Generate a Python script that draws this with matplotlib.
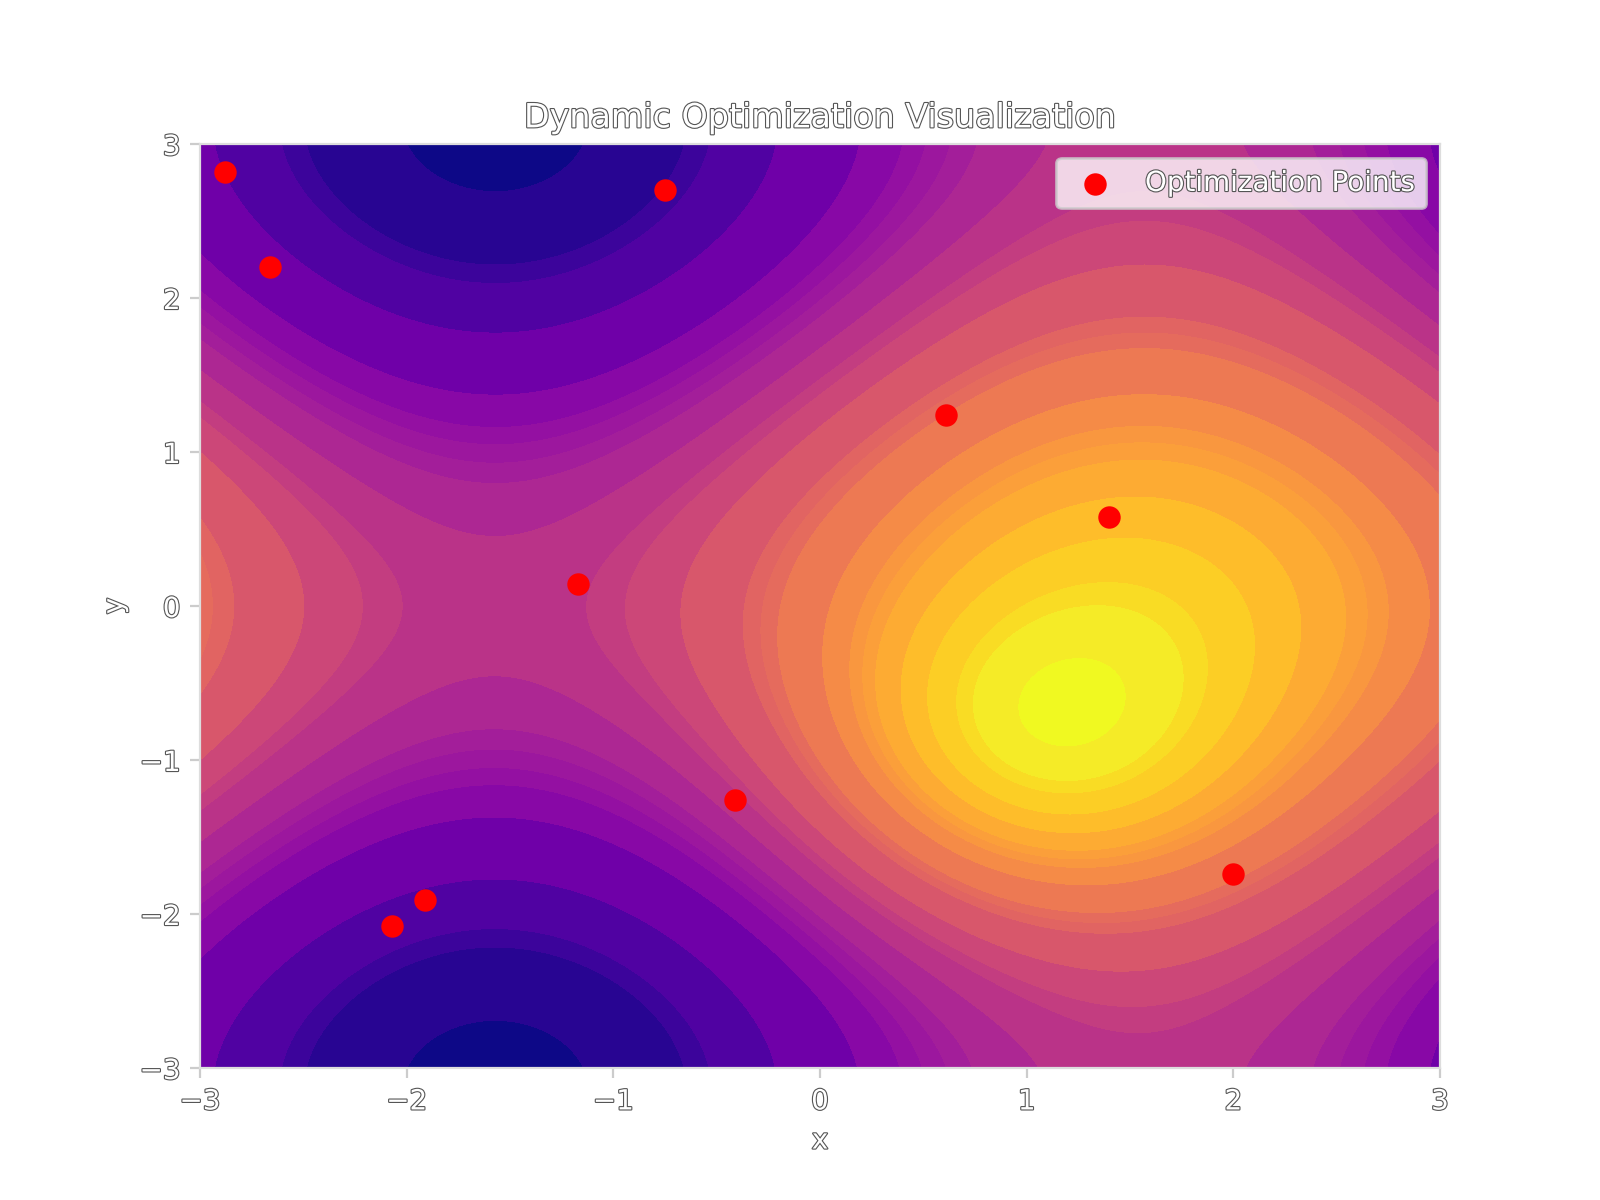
import numpy as np
import matplotlib
matplotlib.use("Agg")
import matplotlib.pyplot as plt
import matplotlib.patheffects as pe

# surface: sin(x) + cos(y) plus one gaussian bump
grid_x = np.linspace(-3, 3, 400)
grid_y = np.linspace(-3, 3, 400)
bump_center = (1.0, -1.0)
bump_height = 1.0

# band edges as they show in the picture
band_edges = [-2.0, -1.9, -1.6, -1.5, -1.2, -0.8, -0.6, -0.5, -0.4, -0.3, -0.1,
              0.1, 0.2, 0.4, 0.7, 0.8, 0.9, 1.2, 1.4, 1.5, 1.6, 1.8, 2.0,
              2.2, 2.3, 2.5, 2.6]
color_min, color_max = -1.95, 2.55

# optimization points
points_x = [-2.88, -2.66, -0.75, 0.61, 1.40, -1.17, -0.41, -1.91, -2.07, 2.00]
points_y = [2.82, 2.20, 2.70, 1.24, 0.58, 0.14, -1.26, -1.91, -2.08, -1.74]

ticks = [-3, -2, -1, 0, 1, 2, 3]

X, Y = np.meshgrid(grid_x, grid_y)
Z = np.sin(X) + np.cos(Y) + bump_height * np.exp(-((X - bump_center[0]) ** 2 + (Y - bump_center[1]) ** 2))

outline = [pe.withStroke(linewidth=0.8, foreground="#555555")]

fig, ax = plt.subplots(figsize=(8, 6), dpi=200)

ax.contourf(X, Y, Z, levels=band_edges, cmap="plasma", vmin=color_min, vmax=color_max)
ax.scatter(points_x, points_y, color="red", s=50, label="Optimization Points", zorder=3)

ax.set_xticks(ticks)
ax.set_yticks(ticks)
ax.set_title("Dynamic Optimization Visualization", color="white", path_effects=outline)
ax.set_xlabel("x", color="white", path_effects=outline)
ax.set_ylabel("y", color="white", path_effects=outline)
ax.tick_params(colors="#cccccc", labelcolor="white")
for lab in ax.get_xticklabels() + ax.get_yticklabels():
    lab.set_path_effects(outline)
for s in ax.spines.values():
    s.set_color("#dddddd")

leg = ax.legend(loc="upper right")
for t in leg.get_texts():
    t.set_color("white")
    t.set_path_effects(outline)

plt.savefig("out.png", dpi=200)
